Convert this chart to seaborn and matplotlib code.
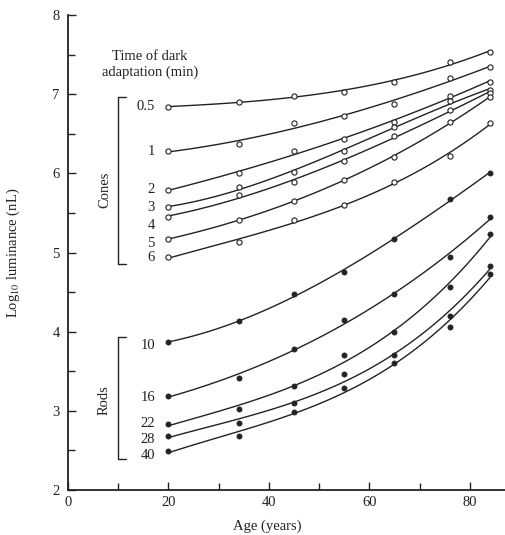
import numpy as np
import pandas as pd
import matplotlib
matplotlib.use("Agg")
import matplotlib.pyplot as plt
import seaborn as sns

# =========================
# DATA
# =========================
ages = [20, 34, 45, 55, 65, 76, 84]

cone_times = ["0.5", "1", "2", "3", "4", "5", "6"]
cone_05 = [6.84, 6.90, 6.98, 7.03, 7.16, 7.41, 7.53]
cone_1 = [6.28, 6.37, 6.63, 6.73, 6.88, 7.20, 7.34]
cone_2 = [5.79, 6.00, 6.28, 6.43, 6.65, 6.98, 7.16]
cone_3 = [5.57, 5.83, 6.02, 6.28, 6.58, 6.91, 7.05]
cone_4 = [5.45, 5.73, 5.89, 6.15, 6.47, 6.80, 7.02]
cone_5 = [5.17, 5.41, 5.65, 5.92, 6.21, 6.65, 6.96]
cone_6 = [4.94, 5.13, 5.41, 5.60, 5.89, 6.22, 6.64]
cones = [cone_05, cone_1, cone_2, cone_3, cone_4, cone_5, cone_6]

rod_times = ["10", "16", "22", "28", "40"]
rod_10 = [3.87, 4.13, 4.47, 4.76, 5.17, 5.68, 6.00]
rod_16 = [3.19, 3.42, 3.78, 4.15, 4.48, 4.94, 5.45]
rod_22 = [2.83, 3.02, 3.31, 3.71, 3.99, 4.56, 5.23]
rod_28 = [2.68, 2.85, 3.10, 3.46, 3.70, 4.20, 4.83]
rod_40 = [2.49, 2.68, 2.98, 3.29, 3.60, 4.06, 4.73]
rods = [rod_10, rod_16, rod_22, rod_28, rod_40]

# label heights next to curve starts
cone_label_y = [6.84, 6.28, 5.79, 5.57, 5.34, 5.11, 4.94]
rod_label_y = [3.83, 3.17, 2.84, 2.64, 2.44]

rows = []
for t, vals in zip(cone_times, cones):
    for a, v in zip(ages, vals):
        rows.append({"age": a, "lum": v, "time": t, "type": "cones"})
for t, vals in zip(rod_times, rods):
    for a, v in zip(ages, vals):
        rows.append({"age": a, "lum": v, "time": t, "type": "rods"})
df = pd.DataFrame(rows)

# =========================
# STYLE
# =========================
sns.set_style("ticks")
plt.rcParams["font.family"] = ["Liberation Serif", "DejaVu Serif"]
plt.rcParams["mathtext.fontset"] = "stix"

fig = plt.figure(figsize=(5.06, 5.35), dpi=100)
ax = fig.add_axes([68 / 506, 45 / 535, 437 / 506, 475 / 535])

ink = "#222222"

# =========================
# CURVES + POINTS
# =========================
for t in cone_times + rod_times:
    sub = df[df["time"] == t]
    sns.regplot(data=sub, x="age", y="lum", order=3, ci=None, scatter=False,
                truncate=True, ax=ax, line_kws={"color": ink, "lw": 1.0})

sns.scatterplot(data=df[df["type"] == "cones"], x="age", y="lum", ax=ax,
                marker="o", s=14, facecolor="white", edgecolor=ink,
                linewidth=0.8, zorder=3)
sns.scatterplot(data=df[df["type"] == "rods"], x="age", y="lum", ax=ax,
                marker="o", s=14, color=ink, edgecolor=ink,
                linewidth=0.5, zorder=3)

# =========================
# LABELS / BRACKETS
# =========================
for t, y in zip(cone_times, cone_label_y):
    ax.text(17.3, y, t, ha="right", va="center", fontsize=10.5, color=ink)
for t, y in zip(rod_times, rod_label_y):
    ax.text(17.3, y, t, ha="right", va="center", fontsize=10.5, color=ink)

ax.text(16.3, 7.38, "Time of dark\nadaptation (min)", ha="center",
        va="center", fontsize=10.5, color=ink, linespacing=1.25)

bx = 9.9
ax.plot([bx + 1.7, bx, bx, bx + 1.7], [6.96, 6.96, 4.85, 4.85],
        color=ink, lw=1.0)
ax.text(7.4, 5.79, "Cones", rotation=90, ha="center", va="center",
        fontsize=10.5, color=ink)
ax.plot([bx + 1.7, bx, bx, bx + 1.7], [3.93, 3.93, 2.39, 2.39],
        color=ink, lw=1.0)
ax.text(7.2, 3.14, "Rods", rotation=90, ha="center", va="center",
        fontsize=10.5, color=ink)

# =========================
# AXES
# =========================
ax.set_xlim(0, 87)
ax.set_ylim(2, 8)
ax.set_xticks([0, 20, 40, 60, 80])
ax.set_xticks([10, 30, 50, 70], minor=True)
ax.set_yticks([2, 3, 4, 5, 6, 7, 8])
ax.set_yticks(np.arange(2.5, 8, 1.0), minor=True)
ax.tick_params(axis="both", which="both", direction="in", color=ink,
               width=1.0, labelsize=10.5, labelcolor=ink)
ax.tick_params(axis="both", which="major", length=6)
ax.tick_params(axis="both", which="minor", length=5)
ax.tick_params(axis="y", pad=6)
ax.tick_params(axis="x", pad=4)
for s in ["top", "right"]:
    ax.spines[s].set_visible(False)
for s in ["left", "bottom"]:
    ax.spines[s].set_color(ink)
    ax.spines[s].set_linewidth(1.3)

ax.set_xlabel("Age (years)", fontsize=10.5, color=ink)
ax.xaxis.set_label_coords(0.455, -0.063)
ax.set_ylabel(r"Log$_{10}$ luminance (nL)", fontsize=10.5, color=ink)
ax.yaxis.set_label_coords(-0.105, 0.5)

fig.savefig("out.png", dpi=100)
